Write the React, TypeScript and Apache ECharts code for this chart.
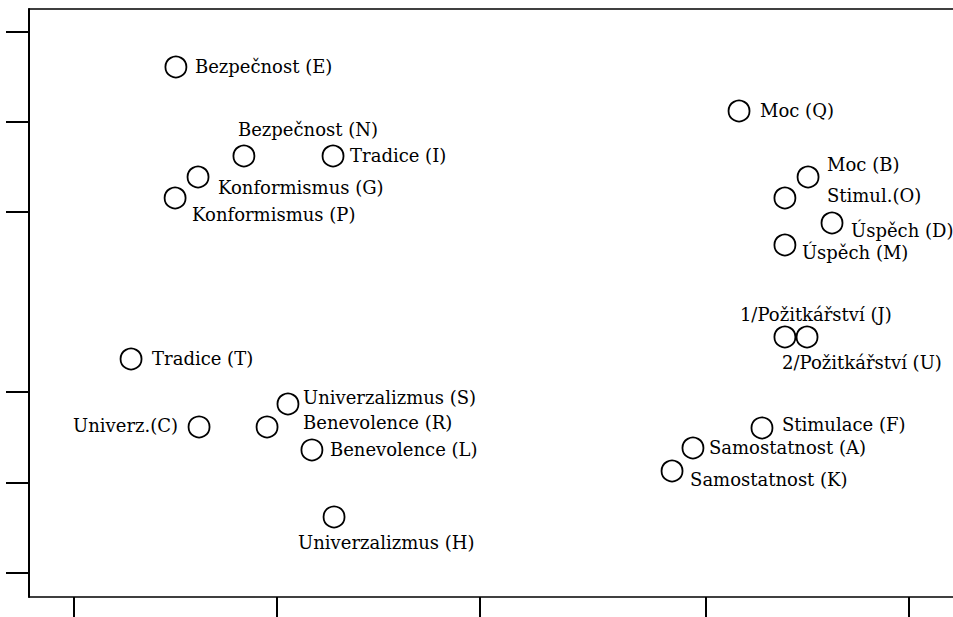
import React, { useEffect, useRef } from "react";
import * as echarts from "echarts";

// Point names and coordinates (dimension 1, dimension 2)
const names = [
  "Bezpečnost (E)", "Bezpečnost (N)", "Tradice (I)", "Konformismus (G)", "Konformismus (P)",
  "Moc (Q)", "Moc (B)", "Stimul.(O)", "Úspěch (D)", "Úspěch (M)",
  "1/Požitkářství (J)", "2/Požitkářství (U)", "Stimulace (F)", "Samostatnost (A)", "Samostatnost (K)",
  "Tradice (T)", "Univerz.(C)", "Benevolence (R)", "Univerzalizmus (S)", "Benevolence (L)",
  "Univerzalizmus (H)",
];
const xValues = [
  -1.498, -1.163, -0.724, -1.389, -1.502,
  1.276, 1.616, 1.502, 1.734, 1.502,
  1.502, 1.611, 1.389, 1.049, 0.946,
  -1.719, -1.384, -1.049, -0.946, -0.828,
  -0.719,
];
const yValues = [
  2.606, 1.619, 1.619, 1.386, 1.153,
  2.118, 1.386, 1.153, 0.876, 0.632,
  -0.388, -0.388, -1.397, -1.619, -1.874,
  -0.632, -1.386, -1.386, -1.131, -1.641,
  -2.384,
];
// Tick positions
const xTicks = [-2, -1, 0, 1.113, 2.113];
const yTicks = [-3, -2, -1, 1, 2, 3];

// label placement: [dx, dy, align]
const labelPlace: [number, number, string][] = [
  [19, 0, "left"], [-6, -26, "left"], [17, 0, "left"], [20, 11, "left"], [17, 17, "left"],
  [21, 0, "left"], [19, -12, "left"], [42, -2, "left"], [19, 8, "left"], [17, 8, "left"],
  [-45, -22, "left"], [-25, 26, "left"], [20, -3, "left"], [16, 0, "left"], [18, 9, "left"],
  [21, 0, "left"], [-21, -1, "right"], [36, -4, "left"], [15, -6, "left"], [18, 0, "left"],
  [-36, 26, "left"],
];

const X_MIN = -2.2217;
const X_MAX = 2.33;

export default function App() {
  const ref = useRef<HTMLDivElement>(null);
  useEffect(() => {
    if (!ref.current) return;
    const chart = echarts.init(ref.current, null, { renderer: "svg" });
    const data = names.map((n, i) => ({
      name: n,
      value: [xValues[i], yValues[i]],
      label: {
        show: true,
        formatter: n,
        position: "inside",
        offset: [labelPlace[i][0], labelPlace[i][1]],
        align: labelPlace[i][2],
        verticalAlign: "middle",
        color: "#000",
        textBorderWidth: 0,
        fontFamily: "DejaVu Serif",
        fontSize: 18,
      },
    }));
    chart.setOption({
      animation: false,
      backgroundColor: "#fff",
      grid: {
        left: 29,
        top: 9,
        right: 0,
        bottom: 20,
        show: false,
      },
      xAxis: [
        {
          type: "value",
          position: "bottom",
          min: X_MIN,
          max: X_MAX,
          splitLine: { show: false },
          axisLine: { show: true, onZero: false, lineStyle: { color: "#000", width: 1.5 } },
          axisTick: { show: true, length: 23, customValues: xTicks, lineStyle: { color: "#000", width: 2 } },
          axisLabel: { show: false },
        },
        {
          type: "value",
          position: "top",
          min: X_MIN,
          max: X_MAX,
          splitLine: { show: false },
          axisLine: { show: true, onZero: false, lineStyle: { color: "#000", width: 1.5 } },
          axisTick: { show: false },
          axisLabel: { show: false },
        },
      ],
      yAxis: {
        type: "value",
        min: -3.272,
        max: 3.249,
        splitLine: { show: false },
        axisLine: { show: true, onZero: false, lineStyle: { color: "#000", width: 2 } },
        axisTick: { show: true, length: 23, customValues: yTicks, lineStyle: { color: "#000", width: 2 } },
        axisLabel: { show: false },
      },
      series: [
        {
          type: "scatter",
          xAxisIndex: 0,
          symbol: "circle",
          symbolSize: 21,
          itemStyle: { color: "rgba(0,0,0,0)", borderColor: "#000", borderWidth: 1.8, opacity: 1 },
          emphasis: { disabled: true },
          data,
        },
      ],
    });
    return () => chart.dispose();
  }, []);
  return (
    <div
      ref={ref}
      style={{ position: "fixed", left: 0, top: 0, width: 953, height: 617, background: "#fff" }}
    />
  );
}
